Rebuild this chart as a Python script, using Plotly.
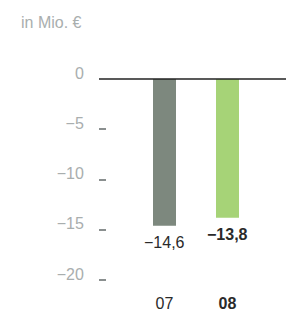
import plotly.graph_objects as go

categories = ["07", "08"]
values = [-14.6, -13.8]
value_labels = ["−14,6", "<b>−13,8</b>"]
category_labels = ["07", "<b>08</b>"]
tick_values = [0, -5, -10, -15, -20]
tick_labels = ["0", "−5", "−10", "−15", "−20"]
bar_colors = ["#7d887e", "#a6d377"]

OFF = 8  # default page body margin
W, H = 294 - OFF, 311 - OFF
ml, mr, mt, mb = 107 - OFF, 1, 73 - OFF, 21
zero_px = 79 - OFF
px_per_unit = 10.05
y_top = (zero_px - mt) / px_per_unit
y_bot = -(H - mb - zero_px) / px_per_unit

x_pos = [0, 1]
x_px_per_unit = 63
center0 = 164.5 - OFF
x_left = (ml - center0) / x_px_per_unit
x_right = x_left + (W - ml - mr) / x_px_per_unit
pw = W - ml - mr
ph = H - mt - mb

font = "Liberation Sans, Arial"
gray = "#a9aeae"

fig = go.Figure()
fig.add_trace(go.Bar(
    x=x_pos, y=values, width=23 / x_px_per_unit,
    marker=dict(color=bar_colors, line=dict(width=0)),
    hoverinfo="skip",
))

for xv, yv, lbl in zip(x_pos, values, value_labels):
    fig.add_annotation(text=lbl, x=xv, y=yv, xref="x", yref="y",
                       xanchor="center", yanchor="top", yshift=-6,
                       showarrow=False,
                       font=dict(family=font, size=16, color="#2a2a2a"))

fig.add_shape(type="line", xref="paper", yref="y",
              x0=(99 - OFF - ml) / pw, x1=1, y0=0, y1=0,
              line=dict(color="#222222", width=1.5))

fig.add_annotation(text="in Mio. €", xref="paper", yref="paper",
                   x=(19 - OFF - ml) / pw, y=1 + (mt - (23 - OFF)) / ph,
                   xanchor="left", yanchor="middle", showarrow=False,
                   font=dict(family=font, size=16, color=gray))

fig.update_layout(
    width=W, height=H,
    margin=dict(l=ml, r=mr, t=mt, b=mb, autoexpand=False),
    paper_bgcolor="white", plot_bgcolor="white",
    showlegend=False,
    xaxis=dict(range=[x_left, x_right], tickvals=x_pos, ticktext=category_labels,
               showgrid=False, zeroline=False, showline=False, ticks="",
               automargin=False,
               tickfont=dict(family=font, size=16, color="#2a2a2a"),
               ticklabelstandoff=2),
    yaxis=dict(range=[y_bot, y_top], tickvals=tick_values[1:], ticktext=tick_labels[1:],
               showgrid=False, zeroline=False, showline=False, automargin=False,
               ticks="outside", ticklen=7, tickwidth=1.5, tickcolor="#8a8f8f",
               ticklabelshift=-6, ticklabelstandoff=12,
               tickfont=dict(family=font, size=16, color=gray)),
)

fig.add_annotation(text="0", xref="paper", yref="y",
                   x=(86 - OFF - ml) / pw, y=0, yshift=6,
                   xanchor="right", yanchor="middle", showarrow=False,
                   font=dict(family=font, size=16, color=gray))

fig.write_html("out.html")
